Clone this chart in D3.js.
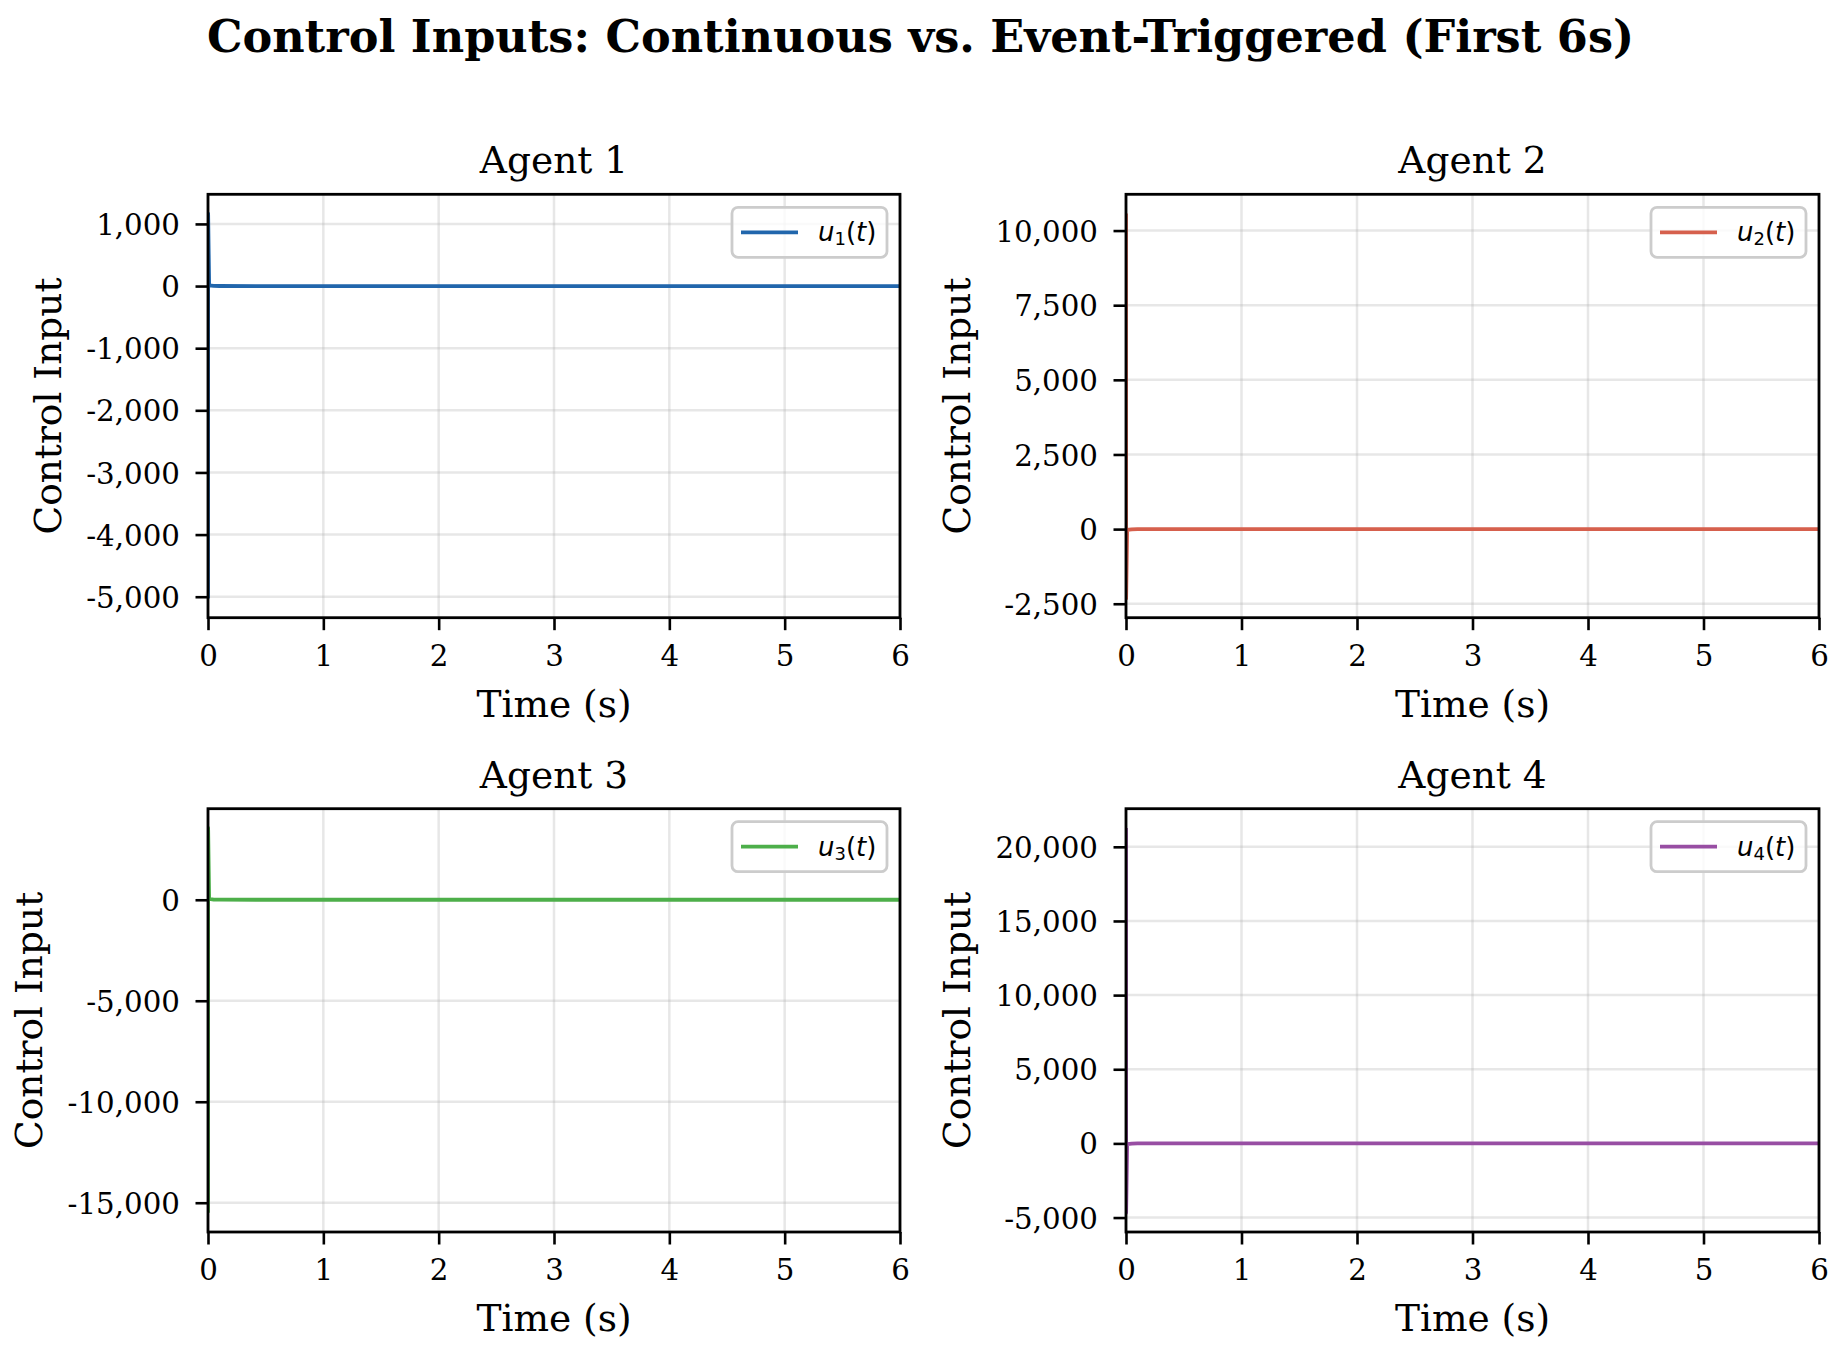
<!DOCTYPE html>
<html>
<head>
<meta charset="utf-8">
<script src="https://cdn.jsdelivr.net/npm/d3@7"></script>
<style>
    body { margin: 0; background: #fff; }
    svg { display: block; }
    text { font-family: "DejaVu Serif", serif; fill: #000; }
    .legend text { font-family: "DejaVu Sans", sans-serif; }
</style>
</head>
<body>
<svg id="chart" width="1841" height="1351"></svg>
<script>
// sample times (s) and control inputs
var timeS = [0, 0.001, 0.01, 0.05, 0.1, 0.5, 1, 2, 3, 4, 5, 6]
var u1 = [-5028, 1167, 12, 3, 1, 0, 0, 0, 0, 0, 0, 0]
var u2 = [10570, -2323, -25, -6, -2, 0, 0, 0, 0, 0, 0, 0]
var u3 = [-15497, 3556, 40, 9, 2, 0, 0, 0, 0, 0, 0, 0]
var u4 = [21273, -4677, -50, -12, -3, 0, 0, 0, 0, 0, 0, 0]

var agentNames = ['Agent 1', 'Agent 2', 'Agent 3', 'Agent 4']
var agentColors = ['#2166ac', '#d6604d', '#4daf4a', '#984ea3']
var xTicks = [0, 1, 2, 3, 4, 5, 6]
var yTicks1 = [-5000, -4000, -3000, -2000, -1000, 0, 1000]
var yTicks2 = [-2500, 0, 2500, 5000, 7500, 10000]
var yTicks3 = [-15000, -10000, -5000, 0]
var yTicks4 = [-5000, 0, 5000, 10000, 15000, 20000]

var series = [u1, u2, u3, u4]
var yTickSets = [yTicks1, yTicks2, yTicks3, yTicks4]

var svg = d3.select('#chart')
svg.append('rect').attr('width', 1841).attr('height', 1351).attr('fill', '#fff')

var fmt = d3.formatLocale({decimal: '.', thousands: ',', grouping: [3], currency: ['', ''], minus: '-'}).format(',')

// panel frames
var cols = [[208, 900], [1126, 1819]]
var rows = [[194.3, 617.7], [808.7, 1232]]
var tickLen = 12.5, tickFont = 29.3, labelFont = 37.5, lineW = 3.8

svg.append('text')
    .attr('x', 920.5).attr('y', 52)
    .attr('text-anchor', 'middle')
    .style('font-weight', 'bold').style('font-size', '44.6px')
    .text('Control Inputs: Continuous vs. Event-Triggered (First 6s)')

for (var k = 0; k < 4; k++) {
    drawPanel(k)
}

function drawPanel(k) {
    var c = cols[k % 2], r = rows[Math.floor(k / 2)]
    var vals = series[k]
    var lo = d3.min(vals), hi = d3.max(vals), pad = (hi - lo) * 0.05
    var x = d3.scaleLinear().domain([0, 6]).range(c)
    var y = d3.scaleLinear().domain([lo - pad, hi + pad]).range([r[1], r[0]])
    var g = svg.append('g')

    // grid
    g.selectAll('.gx').data(xTicks).enter().append('line')
        .attr('x1', function (d) { return x(d) }).attr('x2', function (d) { return x(d) })
        .attr('y1', r[0]).attr('y2', r[1])
        .attr('stroke', '#b0b0b0').attr('stroke-opacity', 0.3).attr('stroke-width', 2.5)
    g.selectAll('.gy').data(yTickSets[k]).enter().append('line')
        .attr('x1', c[0]).attr('x2', c[1])
        .attr('y1', function (d) { return y(d) }).attr('y2', function (d) { return y(d) })
        .attr('stroke', '#b0b0b0').attr('stroke-opacity', 0.3).attr('stroke-width', 2.5)

    // data line, clipped to the axes
    var clipId = 'clip' + k
    svg.append('clipPath').attr('id', clipId).append('rect')
        .attr('x', c[0]).attr('y', r[0]).attr('width', c[1] - c[0]).attr('height', r[1] - r[0])
    var line = d3.line()
        .x(function (d, i) { return x(timeS[i]) })
        .y(function (d) { return y(d) })
    g.append('path').datum(vals)
        .attr('d', line)
        .attr('fill', 'none')
        .attr('stroke', agentColors[k])
        .attr('stroke-width', lineW)
        .attr('stroke-linejoin', 'round')
        .attr('clip-path', 'url(#' + clipId + ')')

    // axes with d3 axis generators
    var xAxis = d3.axisBottom(x).tickValues(xTicks).tickSize(tickLen).tickPadding(17).tickFormat(d3.format('d'))
    var yAxis = d3.axisLeft(y).tickValues(yTickSets[k]).tickSize(tickLen).tickPadding(15.5).tickFormat(fmt)
    var xg = g.append('g').attr('transform', 'translate(0,' + r[1] + ')').call(xAxis)
    var yg = g.append('g').attr('transform', 'translate(' + c[0] + ',0)').call(yAxis)
    ;[xg, yg].forEach(function (ax) {
        ax.select('.domain').remove()
        ax.selectAll('.tick line').attr('stroke', '#000').attr('stroke-width', 2.6)
        ax.selectAll('.tick text').style('font-size', tickFont + 'px').attr('fill', '#000')
            .style('font-family', '"DejaVu Serif", serif')
    })
    // baseline of x tick labels sits 48.3px under the bottom spine
    xg.selectAll('.tick text').attr('dy', null).attr('y', 48.3)
    yg.selectAll('.tick text').attr('dy', '0.36em')

    // spines
    g.append('rect')
        .attr('x', c[0]).attr('y', r[0]).attr('width', c[1] - c[0]).attr('height', r[1] - r[0])
        .attr('fill', 'none').attr('stroke', '#000').attr('stroke-width', 2.8)

    // panel title and axis labels
    g.append('text')
        .attr('x', (c[0] + c[1]) / 2).attr('y', r[0] - 21)
        .attr('text-anchor', 'middle').style('font-size', labelFont + 'px')
        .text(agentNames[k])
    g.append('text')
        .attr('x', (c[0] + c[1]) / 2).attr('y', r[1] + 99)
        .attr('text-anchor', 'middle').style('font-size', labelFont + 'px')
        .text('Time (s)')

    var maxW = 0
    yg.selectAll('.tick text').each(function () {
        maxW = Math.max(maxW, this.getComputedTextLength())
    })
    var labX = c[0] - tickLen - 15.5 - maxW - 16.7 - 0.236 * labelFont
    g.append('text')
        .attr('transform', 'translate(' + labX + ',' + ((r[0] + r[1]) / 2) + ') rotate(-90)')
        .attr('text-anchor', 'middle').style('font-size', labelFont + 'px')
        .text('Control Input')

    // legend
    var lw = 155, lh = 50
    var lx = c[1] - 13 - lw, ly = r[0] + 13
    var lg = g.append('g').attr('class', 'legend')
    lg.append('rect')
        .attr('x', lx).attr('y', ly).attr('width', lw).attr('height', lh)
        .attr('rx', 6).attr('fill', '#fff').attr('fill-opacity', 0.8)
        .attr('stroke', '#cccccc').attr('stroke-width', 2.8)
    lg.append('line')
        .attr('x1', lx + 9).attr('x2', lx + 66)
        .attr('y1', ly + lh / 2).attr('y2', ly + lh / 2)
        .attr('stroke', agentColors[k]).attr('stroke-width', lineW)
    var t = lg.append('text').attr('x', lx + 86).attr('y', ly + lh / 2 + 9).style('font-size', '26px')
    t.append('tspan').style('font-style', 'italic').text('u')
    t.append('tspan').attr('dy', 4).style('font-size', '18px').text(String(k + 1))
    t.append('tspan').attr('dy', -4).text('(')
    t.append('tspan').style('font-style', 'italic').text('t')
    t.append('tspan').text(')')
}
</script>
</body>
</html>
